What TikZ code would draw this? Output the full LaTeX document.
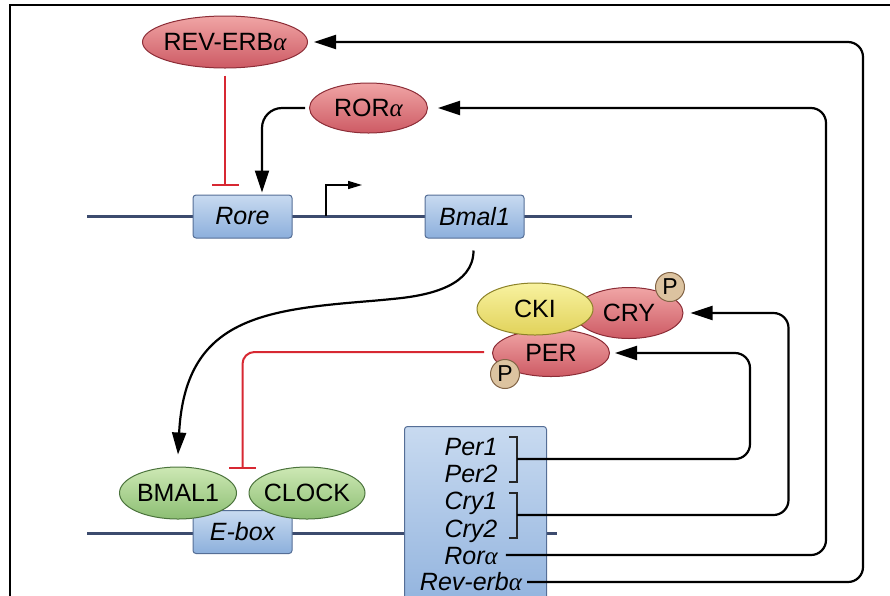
\documentclass[tikz,border=0pt]{standalone}
\usepackage{fontspec}
\setmainfont{Liberation Sans}
\newfontfamily\grk{Liberation Serif}
\newcommand{\galpha}{{\grk\itshape α}}
\usetikzlibrary{shapes.geometric,arrows.meta,calc}

\definecolor{protlight}{RGB}{240,165,165}
\definecolor{protdark}{RGB}{205,90,100}
\definecolor{protedge}{RGB}{140,45,55}
\definecolor{greenlight}{RGB}{205,232,180}
\definecolor{greendark}{RGB}{140,190,115}
\definecolor{greenedge}{RGB}{75,115,60}
\definecolor{yellowlight}{RGB}{248,242,160}
\definecolor{yellowdark}{RGB}{225,210,90}
\definecolor{yellowedge}{RGB}{140,130,40}
\definecolor{boxlight}{RGB}{200,218,240}
\definecolor{boxdark}{RGB}{140,175,220}
\definecolor{boxedge}{RGB}{85,110,150}
\definecolor{phosfill}{RGB}{220,195,160}
\definecolor{phosedge}{RGB}{130,100,70}
\definecolor{inhred}{RGB}{215,40,50}
\definecolor{dnablue}{RGB}{60,75,110}

\begin{document}
\begin{tikzpicture}[x=1pt, y=-1pt,
    font=\fontsize{25}{29}\selectfont,
    prot/.style={ellipse, draw, line width=1pt, inner xsep=-20pt, inner ysep=0pt},
    redprot/.style={prot, draw=protedge, top color=protlight, bottom color=protdark},
    greenprot/.style={prot, draw=greenedge, top color=greenlight, bottom color=greendark},
    yellowprot/.style={prot, draw=yellowedge, top color=yellowlight, bottom color=yellowdark},
    genebox/.style={draw=boxedge, line width=1pt, rounded corners=3pt, top color=boxlight,
      bottom color=boxdark, minimum width=99pt, minimum height=43pt,
      font=\fontsize{25}{29}\selectfont\itshape},
    gname/.style={inner sep=0pt, anchor=base, font=\fontsize{25}{29}\selectfont\itshape},
    phos/.style={circle, draw=phosedge, fill=phosfill, line width=1pt, minimum size=29pt,
      inner sep=0pt, font=\fontsize{23}{26}\selectfont},
    arr/.style={line width=2.2pt, rounded corners=15pt, -{Triangle[length=22pt,width=14pt]}},
    inh/.style={draw=inhred, line width=2pt, -{Bar[width=27pt]}},
    brk/.style={draw=black!85, line width=1.8pt},
    dna/.style={draw=dnablue, line width=3pt}]
  \useasboundingbox (0,0) rectangle (890,595);
  \draw[line width=2pt] (10,600) -- (10,5) -- (900,5);

  % DNA strands and promoters
  \draw[dna] (87,216) -- (632,216);
  \draw[dna] (87,533) -- (557,533);
  \draw[line width=1.5pt, -{Triangle[length=14pt,width=8pt]}] (326,216) |- (362,185);
  \node[genebox] (rore) at (242.5,216.5) {Rore};
  \node[genebox] (bmalg) at (474.5,216.5) {Bmal1};
  \node[genebox] (ebox) at (242.5,532) {E-box};
  \node[draw=boxedge, line width=1pt, rounded corners=3pt, top color=boxlight, bottom color=boxdark,
    minimum width=142pt, minimum height=200pt, anchor=north west] (cluster) at (404,426) {};

  % clock-controlled genes
  \node[gname] (gPer1) at (471,455) {Per1};
  \node[gname] (gPer2) at (471,482) {Per2};
  \node[gname] (gCry1) at (471,509.5) {Cry1};
  \node[gname] (gCry2) at (471,537) {Cry2};
  \node[gname] (gRor) at (471,564) {Ror\galpha};
  \node[gname] (gRev) at (471,590) {Rev-erb\galpha};
  \draw[brk] (509,437) -| (517,482) -- (509,482);
  \draw[brk] (509,493) -| (517,538) -- (509,538);
  \coordinate (perbr) at (517,459);
  \coordinate (crybr) at (517,515);

  % proteins
  \node[redprot, minimum width=165pt, minimum height=52pt] (reverb) at (225,42) {REV-ERB\galpha};
  \node[redprot, minimum width=118pt, minimum height=50pt] (ror) at (368.5,108) {ROR\galpha};
  \node[greenprot, minimum width=117pt, minimum height=52pt] (bmalp) at (178,493) {BMAL1};
  \node[greenprot, minimum width=116pt, minimum height=52pt] (clock) at (307,493) {CLOCK};
  \node[redprot, minimum width=108pt, minimum height=51pt] (cry) at (629,313) {CRY};
  \node[redprot, minimum width=117pt, minimum height=47pt] (per) at (551,353) {PER};
  \node[yellowprot, minimum width=116pt, minimum height=52pt] (cki) at (535,309) {CKI};
  \node[phos] (pcry) at (670,287) {P};
  \node[phos] (pper) at (505,374) {P};

  % feedback loops
  \draw[arr, shorten >=6pt] ($(gRev.base east)+(5,-8)$) -| ($(reverb.east)+(555,0)$) -- (reverb.east);
  \draw[arr, shorten >=10pt] ($(gRor.base east)+(8,-9)$) -| ($(ror.east)+(398,0)$) -- (ror.east);
  \draw[arr, shorten >=7pt] (crybr) -| ($(cry.east)+(105,0)$) -- (cry.east);
  \draw[arr, shorten >=5pt] (perbr) -| ($(per.east)+(140,0)$) -- (per.east);
  \draw[arr, rounded corners=20pt] ($(ror.west)+(-4,0)$) -| ($(rore.north)+(19.5,-2)$);
  \draw[arr] ($(bmalg.south)+(-1,12)$) .. controls +(0,35) and +(47,-5) .. (383,300)
    .. controls (260,310) and (185,320) .. ($(bmalp.north)+(0,-12)$);
  \draw[inh] ($(reverb.south)+(0,7)$) -- ($(reverb.south |- rore.north)+(0,-9)$);
  \draw[inh, rounded corners=12pt] ($(per.west)+(-8,-1)$) -| ($(ebox.north)+(0,-41)$);
\end{tikzpicture}
\end{document}
